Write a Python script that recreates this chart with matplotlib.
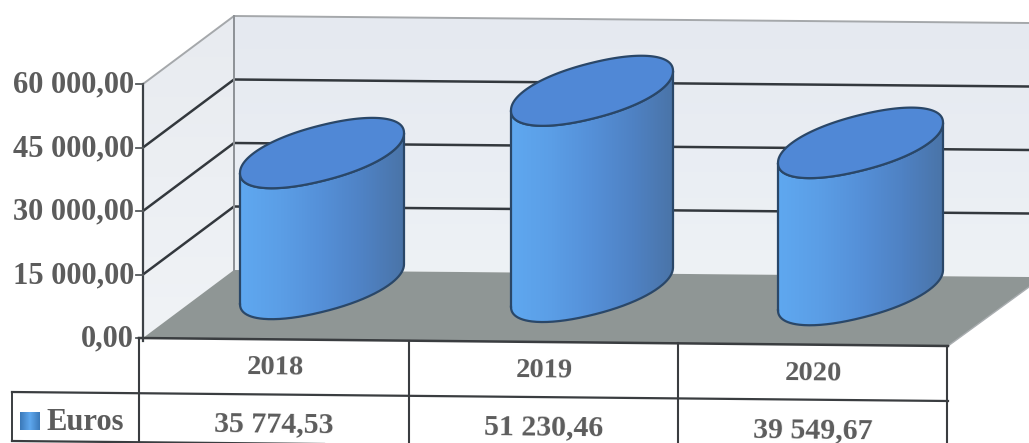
import numpy as np
import matplotlib
matplotlib.use("Agg")
import matplotlib.pyplot as plt
from matplotlib.patches import Polygon, PathPatch
from matplotlib.path import Path
from matplotlib.colors import LinearSegmentedColormap

# ---- data
years = ["2018", "2019", "2020"]
euros = [35774.53, 51230.46, 39549.67]
value_labels = ["35 774,53", "51 230,46", "39 549,67"]
series_name = "Euros"
tick_values = [0, 15000, 30000, 45000, 60000]
tick_labels = ["0,00", "15 000,00", "30 000,00", "45 000,00", "60 000,00"]

# ---- layout of the (scanned) pseudo-3D scene, in pixels
W, H = 1029, 443
K = 63.5 / 15000          # px per euro on axis walls
FX, FY = 143, 338         # front-left corner of the floor
BX, BY = 234, 270         # back-left corner of the floor
SLOPE = 7 / 795           # scan tilt of the back wall
cyl_left = [240, 511, 778]
cyl_right = [404, 673, 943]
cyl_base = [284, 287, 290]     # base-ellipse centre y
cyl_scale = [3.66e-3, 3.83e-3, 3.72e-3]  # px per euro for each cylinder
SHEAR = 0.244
B = 28
P = 0.93                  # slightly blunter-than-ellipse outline of the cylinders
TXT = "#5c5c5c"
FONT = "Liberation Serif"

fig = plt.figure(figsize=(W / 100, H / 100), dpi=100, facecolor="white")
ax = fig.add_axes([0, 0, 1, 1])
ax.axis("off")


def back_y(v, x):
    return BY - v * K + SLOPE * (x - BX)


def front_y(v):
    return FY - v * K


def spow(u):
    return np.sign(u) * np.abs(u) ** P


def gradient(poly_path, extent, colors, z, horizontal=True):
    cmap = LinearSegmentedColormap.from_list("g", colors)
    g = np.linspace(0, 1, 256)
    data = g[None, :] if horizontal else g[:, None]
    im = ax.imshow(data, cmap=cmap, extent=extent, aspect="auto", zorder=z,
                   interpolation="bilinear")
    patch = PathPatch(poly_path, transform=ax.transData, fc="none", ec="none")
    ax.add_patch(patch)
    im.set_clip_path(patch)


vmax = max(tick_values)
# back wall
back = Path([(BX, back_y(vmax, BX)), (W, back_y(vmax, W)),
             (W, back_y(0, W)), (BX, back_y(0, BX)), (BX, back_y(vmax, BX))])
gradient(back, (BX, W, back_y(0, W), back_y(vmax, BX)),
         ["#e5e9f0", "#e9edf3", "#eef2f5"], 1, horizontal=False)
# side wall
side = Path([(FX, front_y(vmax)), (BX, back_y(vmax, BX)), (BX, back_y(0, BX)),
             (FX, front_y(0)), (FX, front_y(vmax))])
gradient(side, (FX, BX, front_y(0), back_y(vmax, BX)),
         ["#e8ebf0", "#f0f3f6"], 1, horizontal=False)
# floor
ax.add_patch(Polygon([(FX, FY), (BX, BY), (W, back_y(0, W)), (W, 287), (948, 346)],
                     closed=True, fc="#8f9695", ec="none", zorder=2))

# grid lines
for v in tick_values[1:]:
    col, lw = ("#33383d", 1.8) if v < vmax else ("#a5a8ab", 1.4)
    ax.plot([FX, BX, W], [front_y(v), back_y(v, BX), back_y(v, W)],
            color=col, lw=lw, zorder=3, solid_capstyle="butt")
ax.plot([BX, BX], [back_y(vmax, BX), back_y(0, BX)], color="#8d9196", lw=1.4, zorder=3)
ax.plot([FX, FX], [front_y(vmax), FY + 3], color="#3c4146", lw=1.6, zorder=5)
ax.plot([948, W], [346, 287], color="#a9adb0", lw=1.0, zorder=3)

# axis ticks and labels
for v, lab in zip(tick_values, tick_labels):
    y = front_y(v)
    ax.plot([FX - 7, FX], [y, y], color="#55595c", lw=1.3, zorder=5)
    ax.text(134, y + 1, lab, ha="right", va="center", fontsize=22, fontweight="bold",
            family=FONT, color=TXT, zorder=6)

# cylinders
t = np.linspace(0, 2 * np.pi, 300)
for left, right, base, sc, val in zip(cyl_left, cyl_right, cyl_base, cyl_scale, euros):
    a = (right - left) / 2
    cx = (left + right) / 2
    top = base - val * sc
    ex = a * spow(np.cos(t))
    ey = -SHEAR * ex + B * spow(np.sin(t))
    lower = np.linspace(np.pi, 0, 150)
    dx = a * spow(np.cos(lower))
    xl = cx + dx
    yl = -SHEAR * dx + B * spow(np.sin(lower))
    body_pts = np.vstack([np.c_[xl, base + yl],
                          np.c_[xl[::-1], top + yl[::-1]]])
    body_pts = np.vstack([body_pts, body_pts[0]])
    gradient(Path(body_pts), (left, right, base + 40, top - 40),
             ["#5fa8f0", "#5b9ee6", "#5590d8", "#4f82c4", "#4a74a8"], 7)
    ax.plot(body_pts[:, 0], body_pts[:, 1], color="#2a4768", lw=1.6, zorder=8)
    top_pts = np.c_[cx + ex, top + ey]
    ax.add_patch(Polygon(top_pts, closed=True, fc="#5088d6", ec="#2a4768", lw=1.6, zorder=9))

# data table
col_x = [FX - 4, 409, 678, 947]
line = "#3a3d40"
ax.plot([FX - 4, 948], [338, 346], color=line, lw=1.8, zorder=6)
ax.plot([12, 948], [392, 401], color=line, lw=1.6, zorder=6)
ax.plot([12, 948], [441, 450], color=line, lw=1.6, zorder=6)
ax.plot([12, 12], [392, 441], color=line, lw=1.4, zorder=6)
for x, y0 in zip(col_x, [338, 341, 343, 346]):
    ax.plot([x, x], [y0, H], color=line, lw=1.5, zorder=6)

for i, (yr, lab) in enumerate(zip(years, value_labels)):
    xc = (col_x[i] + col_x[i + 1]) / 2 + 1
    ax.text(xc, 368 + 3 * i, yr, ha="center", va="center", fontsize=20.5, fontweight="bold",
            family=FONT, color=TXT, rotation=-0.6, zorder=7)
    ax.text(xc - 1, 424 + 3 * i, lab, ha="center", va="center", fontsize=21.5, fontweight="bold",
            family=FONT, color=TXT, rotation=-0.6, zorder=7)

# legend key and name
key = Path([(20, 412), (40, 412), (40, 430), (20, 430), (20, 412)])
gradient(key, (20, 40, 430, 412), ["#3a78b8", "#5fa8ee", "#3a78b8"], 7)
ax.text(46, 423, series_name, ha="left", va="center", fontsize=22, fontweight="bold",
        family=FONT, color=TXT, zorder=7)

ax.set_xlim(0, W)
ax.set_ylim(H, 0)
fig.savefig("out.png", dpi=100, facecolor="white")
